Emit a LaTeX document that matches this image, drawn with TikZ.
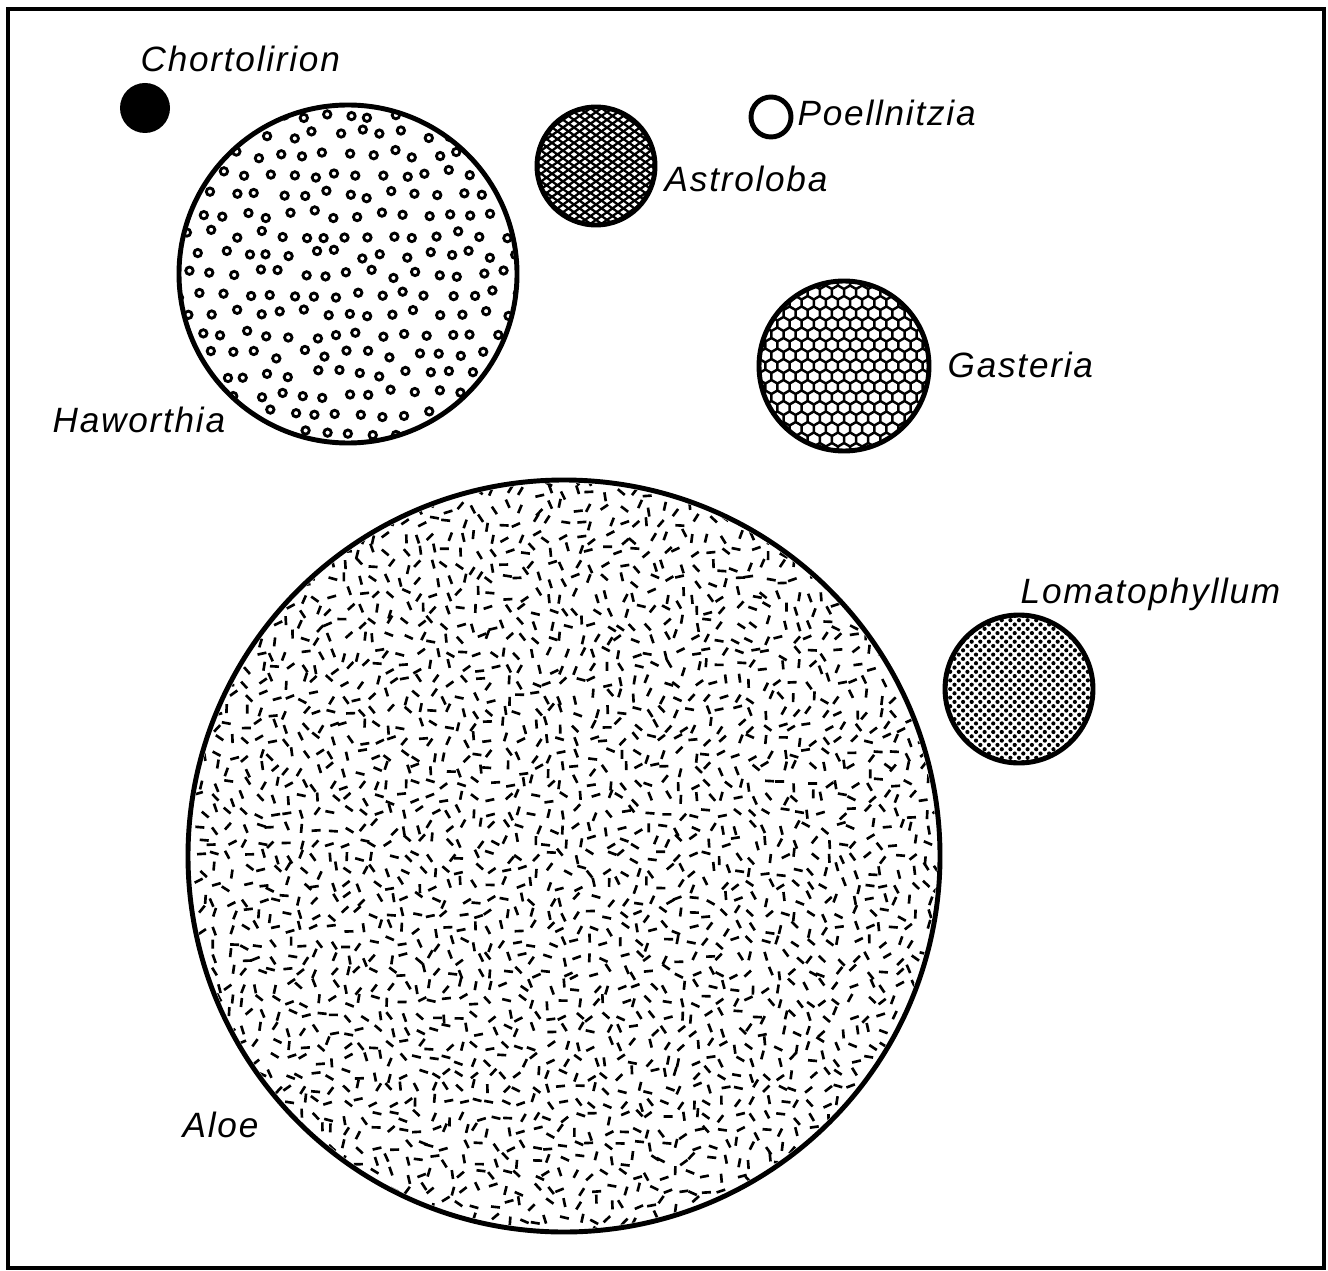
\documentclass[tikz,border=0pt]{standalone}
\usepackage{fontspec}
\newfontfamily\lettering{Liberation Sans}[LetterSpace=5]

\begin{document}
\begin{tikzpicture}[x=0.01cm, y=-0.01cm,
  genus/.style={font=\lettering\itshape\fontsize{10}{11}\selectfont, anchor=base west, inner sep=0pt},
  outline/.style={line width=1.4pt},
  ring/.style={line width=0.8pt},
  aloestroke/.style={line width=0.75pt},
  hexwall/.style={line width=0.7pt},
  astroline/.style={line width=0.65pt}]
  \useasboundingbox (0,0) rectangle (1328,1270);
  \draw[line width=1pt] (8,9) rectangle (1324,1268);

  % centres of the circles
  \coordinate (chort) at (145,108);
  \coordinate (haw) at (348,274);
  \coordinate (astro) at (596,166);
  \coordinate (poell) at (771,117);
  \coordinate (gast) at (844,366);
  \coordinate (lomato) at (1019,689);
  \coordinate (aloe) at (564,856);

  \pgfmathsetseed{7}

  % Haworthia
  \begin{scope}
    \clip (haw) circle (167);
    \begin{scope}[shift={(haw)}]
      \foreach \i in {-9,...,9}{
        \foreach \j in {-9,...,9}{
          \pgfmathsetmacro\px{22.5*\i+11.25*mod(\j+10,2)+4.5*rand}
          \pgfmathsetmacro\py{20*\j+4.5*rand}
          \draw[ring] (\px,\py) circle (3.7);
        }}
    \end{scope}
  \end{scope}
  \draw[outline] (haw) circle (169);

  % Aloe
  \begin{scope}
    \clip (aloe) circle (373);
    \begin{scope}[shift={(aloe)}]
      \foreach \i in {-27,...,27}{
        \foreach \j in {-27,...,27}{
          \ifnum\numexpr\i*\i+\j*\j\relax<740
            \pgfmathsetmacro\px{14.5*\i+5*rand}
            \pgfmathsetmacro\py{14.5*\j+5*rand}
            \pgfmathsetmacro\ang{180*rnd}
            \draw[aloestroke] (\px,\py) +(\ang:4.5) -- +(\ang+180:4.5);
          \fi
        }}
    \end{scope}
  \end{scope}
  \draw[outline] (aloe) circle (376);

  % Astroloba
  \begin{scope}
    \clip (astro) circle (58);
    \draw[astroline, shift={(astro)}] \foreach \k in {-12,...,12}{
      ({11*\k},0) +(35:-110) -- +(35:110)
      ({11*\k},0) +(145:-110) -- +(145:110)};
  \end{scope}
  \draw[outline] (astro) circle (59);

  % Gasteria
  \begin{scope}
    \clip (gast) circle (84);
    \draw[hexwall, shift={(gast)}] \foreach \i in {-8,...,8}{
      \foreach \j in {-9,...,9}{
        ({12.1*\i+6.05*mod(\j+10,2)},{10.5*\j}) +(90:7) -- +(150:7) -- +(210:7)
          -- +(270:7) -- +(330:7) -- +(30:7) -- cycle}};
  \end{scope}
  \draw[outline] (gast) circle (85);

  % Lomatophyllum
  \begin{scope}
    \clip (lomato) circle (73);
    \fill[shift={(lomato)}] \foreach \i in {-9,...,9}{
      \foreach \j in {-18,...,18}{
        ({8.6*\i+4.3*mod(\j+20,2)},{4.3*\j}) circle (2.1)}};
  \end{scope}
  \draw[outline] (lomato) circle (74);

  % Chortolirion and Poellnitzia
  \fill (chort) circle (25);
  \draw[outline] (poell) circle (20);

  % labels
  \node[genus] (chortlabel) at (140,72) {Chortolirion};
  \node[genus] (poelllabel) at (797,126) {Poellnitzia};
  \node[genus] (astrolabel) at (664,192) {Astroloba};
  \node[genus] (gastlabel) at (947,377) {Gasteria};
  \node[genus] (hawlabel) at (52,432) {Haworthia};
  \node[genus] (lomatolabel) at (1020,603) {Lomatophyllum};
  \node[genus] (aloelabel) at (182,1137) {Aloe};
\end{tikzpicture}
\end{document}
